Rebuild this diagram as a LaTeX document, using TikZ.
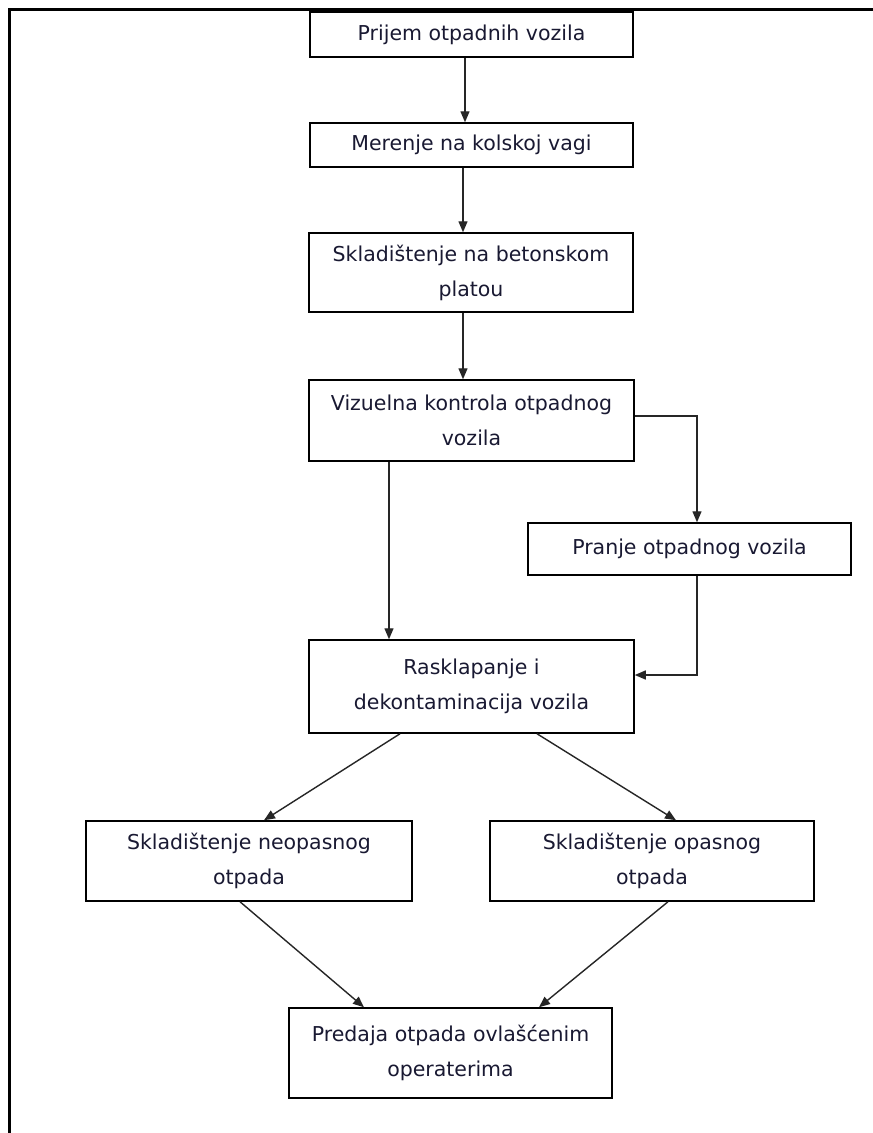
\documentclass[tikz,border=0pt]{standalone}
\usepackage{fontspec}
\setmainfont{DejaVu Sans}
\usetikzlibrary{arrows.meta}
\definecolor{txt}{RGB}{25,25,50}
\tikzset{
  box/.style={draw=black, line width=1.5pt, fill=white, align=center, inner sep=0pt,
    font=\fontsize{20.5}{35}\selectfont, text=txt},
  conn/.style={draw=black!85, line width=1.4pt, -{Triangle[length=11pt,width=9pt]}},
}
\begin{document}
\begin{tikzpicture}[x=1pt,y=-1pt]
\useasboundingbox (0,0) rectangle (873,1133);
\fill[white] (0,0) rectangle (873,1133);
% outer frame (top and left only visible)
\draw[line width=3pt] (9,1133) -- (9,9) -- (873,9);

\node[box, minimum width=323pt, minimum height=45pt] (A) at (471.5,34.5) {Prijem otpadnih vozila};
\node[box, minimum width=323pt, minimum height=44pt] (B) at (471.5,145) {Merenje na kolskoj vagi};
\node[box, minimum width=324pt, minimum height=79pt] (C) at (471,272.5) {Skladištenje na betonskom\\platou};
\node[box, minimum width=325pt, minimum height=81pt] (D) at (471.5,420.5) {Vizuelna kontrola otpadnog\\vozila};
\node[box, minimum width=323pt, minimum height=52pt] (E) at (689.5,549) {Pranje otpadnog vozila};
\node[box, minimum width=325pt, minimum height=93pt] (F) at (471.5,686.5) {Rasklapanje i\\dekontaminacija vozila};
\node[box, minimum width=326pt, minimum height=80pt] (G) at (249,861) {Skladištenje neopasnog\\otpada};
\node[box, minimum width=324pt, minimum height=80pt] (H) at (652,861) {Skladištenje opasnog\\otpada};
\node[box, minimum width=323pt, minimum height=90pt] (I) at (450.5,1053) {Predaja otpada ovlašćenim\\operaterima};

\draw[conn] (A.south -| 465,0) -- (B.north -| 465,0);
\draw[conn] (B.south -| 463,0) -- (C.north -| 463,0);
\draw[conn] (C.south -| 463,0) -- (D.north -| 463,0);
\draw[conn] (D.south -| 389,0) -- (F.north -| 389,0);
\draw[conn] (D.east |- 0,416) -| (E.north -| 697,0);
\draw[conn] (E.south -| 697,0) |- (F.east |- 0,675);
\draw[conn] (F.south -| 400,0) -- (G.north -| 264,0);
\draw[conn] (F.south -| 537,0) -- (H.north -| 676,0);
\draw[conn] (G.south -| 240,0) -- (I.north -| 364,0);
\draw[conn] (H.south -| 668,0) -- (I.north -| 539,0);
\end{tikzpicture}
\end{document}
